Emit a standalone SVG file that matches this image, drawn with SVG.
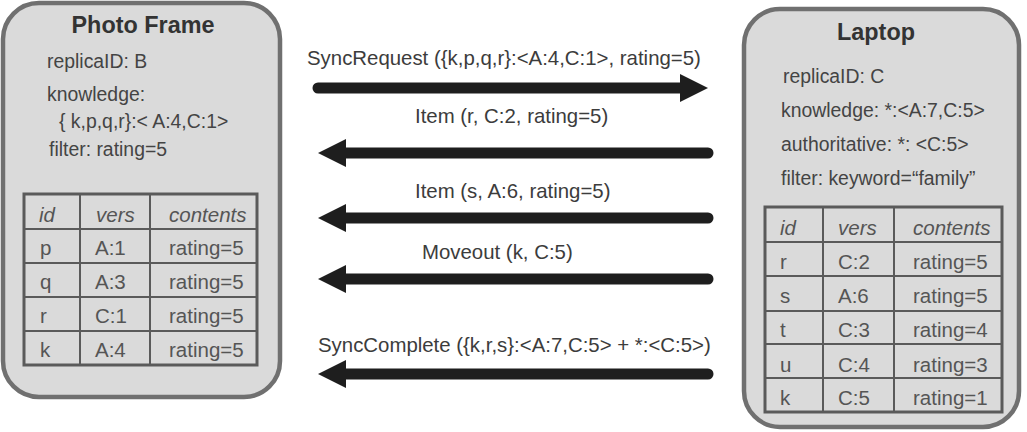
<svg xmlns="http://www.w3.org/2000/svg" width="1027" height="432" viewBox="0 0 1027 432">
<style>
.box{fill:#dadada;stroke:#707070;stroke-width:4.5}
.title{font-family:"Liberation Sans",Arial,sans-serif;font-weight:bold;font-size:23.4px;fill:#333;text-anchor:middle}
.body{font-family:"Liberation Sans",Arial,sans-serif;font-size:19.4px;fill:#444}
.tbl{fill:none;stroke:#5a5a5a;stroke-width:3}
.grid{stroke:#5a5a5a;stroke-width:2}
.cell{font-family:"Liberation Sans",Arial,sans-serif;font-size:20.5px;fill:#555}
.hd{font-style:italic}
.lbl{font-family:"Liberation Sans",Arial,sans-serif;font-size:20.4px;fill:#3c3c3c}
.arr{stroke:#1e1e1e;stroke-width:11;stroke-linecap:round;fill:none;marker-end:url(#head)}
</style>
<defs>
<marker id="head" viewBox="0 0 28 28" markerUnits="userSpaceOnUse" markerWidth="28" markerHeight="28" refX="6" refY="14" orient="auto">
<path d="M0,0 L28,14 L0,28 z" fill="#1e1e1e"/>
</marker>
</defs>
<g id="photo-frame">
<rect class="box" x="3" y="3" width="277" height="394" rx="36"/>
<text class="title" x="143" y="33">Photo Frame</text>
<text class="body" x="47" y="68">replicaID: B</text>
<text class="body" x="47" y="101">knowledge:</text>
<text class="body" x="59" y="128">{ k,p,q,r}:&lt; A:4,C:1&gt;</text>
<text class="body" x="49" y="156">filter: rating=5</text>
<rect class="tbl" x="24" y="194" width="233" height="171"/>
<line class="grid" x1="80" y1="194" x2="80" y2="365"/>
<line class="grid" x1="150" y1="194" x2="150" y2="365"/>
<line class="grid" x1="24" y1="229" x2="257" y2="229"/>
<line class="grid" x1="24" y1="263" x2="257" y2="263"/>
<line class="grid" x1="24" y1="297" x2="257" y2="297"/>
<line class="grid" x1="24" y1="331" x2="257" y2="331"/>
<text class="cell hd" x="39" y="222">id</text>
<text class="cell hd" x="96" y="222">vers</text>
<text class="cell hd" x="169" y="222">contents</text>
<text class="cell" x="40" y="255">p</text><text class="cell" x="95" y="255">A:1</text><text class="cell" x="169" y="255">rating=5</text>
<text class="cell" x="40" y="289">q</text><text class="cell" x="95" y="289">A:3</text><text class="cell" x="169" y="289">rating=5</text>
<text class="cell" x="40" y="323">r</text><text class="cell" x="95" y="323">C:1</text><text class="cell" x="169" y="323">rating=5</text>
<text class="cell" x="40" y="357">k</text><text class="cell" x="95" y="357">A:4</text><text class="cell" x="169" y="357">rating=5</text>
</g>
<g id="laptop">
<rect class="box" x="744" y="9" width="275" height="418" rx="36"/>
<text class="title" x="876" y="40">Laptop</text>
<text class="body" x="783" y="83">replicaID: C</text>
<text class="body" x="781" y="117">knowledge: *:&lt;A:7,C:5&gt;</text>
<text class="body" x="781" y="151">authoritative: *: &lt;C:5&gt;</text>
<text class="body" x="781" y="185">filter: keyword=“family”</text>
<rect class="tbl" x="765" y="207" width="237" height="205"/>
<line class="grid" x1="823" y1="207" x2="823" y2="412"/>
<line class="grid" x1="894" y1="207" x2="894" y2="412"/>
<line class="grid" x1="765" y1="242" x2="1002" y2="242"/>
<line class="grid" x1="765" y1="276" x2="1002" y2="276"/>
<line class="grid" x1="765" y1="311" x2="1002" y2="311"/>
<line class="grid" x1="765" y1="344" x2="1002" y2="344"/>
<line class="grid" x1="765" y1="378" x2="1002" y2="378"/>
<text class="cell hd" x="780" y="235">id</text>
<text class="cell hd" x="838" y="235">vers</text>
<text class="cell hd" x="913" y="235">contents</text>
<text class="cell" x="780" y="269">r</text><text class="cell" x="838" y="269">C:2</text><text class="cell" x="913" y="269">rating=5</text>
<text class="cell" x="780" y="303">s</text><text class="cell" x="838" y="303">A:6</text><text class="cell" x="913" y="303">rating=5</text>
<text class="cell" x="780" y="337">t</text><text class="cell" x="838" y="337">C:3</text><text class="cell" x="913" y="337">rating=4</text>
<text class="cell" x="780" y="372">u</text><text class="cell" x="838" y="372">C:4</text><text class="cell" x="913" y="372">rating=3</text>
<text class="cell" x="780" y="405">k</text><text class="cell" x="838" y="405">C:5</text><text class="cell" x="913" y="405">rating=1</text>
</g>
<g id="connectors">
<line class="arr" x1="318" y1="88" x2="686" y2="88"/>
<text class="lbl" x="307" y="65">SyncRequest ({k,p,q,r}:&lt;A:4,C:1&gt;, rating=5)</text>
<line class="arr" x1="708" y1="153" x2="340" y2="153"/>
<text class="lbl" x="415" y="123">Item (r, C:2, rating=5)</text>
<line class="arr" x1="708" y1="218" x2="340" y2="218"/>
<text class="lbl" x="415" y="198">Item (s, A:6, rating=5)</text>
<line class="arr" x1="708" y1="279" x2="340" y2="279"/>
<text class="lbl" x="422" y="259">Moveout (k, C:5)</text>
<line class="arr" x1="708" y1="374" x2="340" y2="374"/>
<text class="lbl" x="318" y="352">SyncComplete ({k,r,s}:&lt;A:7,C:5&gt; + *:&lt;C:5&gt;)</text>
</g>
</svg>
